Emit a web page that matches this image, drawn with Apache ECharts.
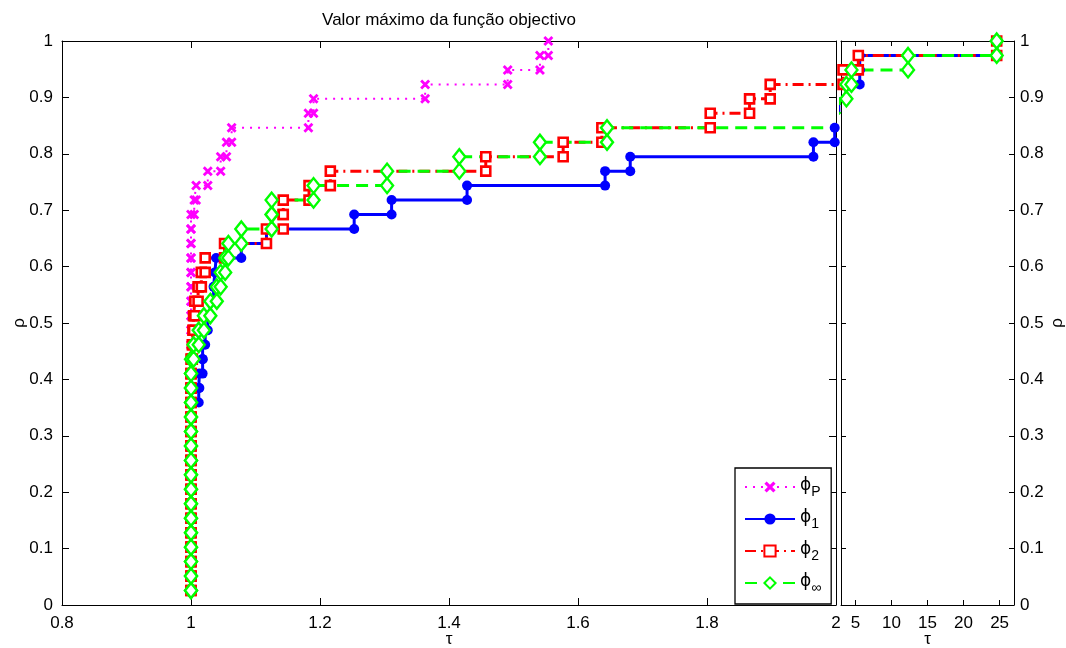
<!DOCTYPE html>
<html><head><meta charset="utf-8">
<script src="https://cdn.jsdelivr.net/npm/echarts@6/dist/echarts.min.js"></script>
<style>html,body{margin:0;padding:0;background:#fff}#c{width:1066px;height:648px}</style>
</head><body><div id="c"></div>
<script>
// ---- data ----
const nProblems = 39;
const titleText = 'Valor máximo da função objectivo';
const seriesNames = ['P', '1', '2', 'inf'];
const seriesSubs = ['P', '1', '2', '∞'];
// sorted performance ratios (one per problem)
const tauP = [1,1,1,1,1,1,1,1,1,1,1,1,1,1,1,1,1,1,1,1,1,1,1,1,1,1,1,
  1.005,1.008,1.026,1.046,1.055,1.063,1.182,1.19,1.363,1.491,1.541,1.554];
const tau1 = [1,1,1,1,1,1,1,1,1,1,1,1,1,1,
  1.012,1.013,1.018,1.018,1.022,1.026,1.03,1.035,1.037,1.039,1.078,1.117,1.253,1.311,1.428,
  1.642,1.681,1.965,1.998,2.4,2.7,3.7,5.6,5.6,24.6];
const tau2 = [1,1,1,1,1,1,1,1,1,1,1,1,1,1,1,1,1,
  1.002,1.003,1.004,1.006,1.011,1.016,1.022,1.052,1.117,1.143,1.143,1.183,1.216,1.457,
  1.577,1.637,1.805,1.866,1.898,3.28,5.4,24.6];
const tauInf = [1,1,1,1,1,1,1,1,1,1,1,1,1,1,1,1,1,
  1.004,1.012,1.02,1.03,1.04,1.046,1.053,1.058,1.078,1.125,1.125,1.19,1.304,1.416,
  1.541,1.645,2.5,2.8,3.75,4.45,12.3,24.6];
const xTicksMain = [0.8, 1, 1.2, 1.4, 1.6, 1.8, 2];
const xTicksRight = [5, 10, 15, 20, 25];
const yTicks = [0, 0.1, 0.2, 0.3, 0.4, 0.5, 0.6, 0.7, 0.8, 0.9, 1];
const xRangeMain = [0.8, 2];
const xRangeRight = [3, 27];

// ---- build stairs vertices (like MATLAB stairs) ----
function stairs(tau) {
  const pts = [];
  for (let k = 0; k < tau.length; k++) {
    if (k > 0) pts.push([tau[k], k / nProblems]);
    pts.push([tau[k], (k + 1) / nProblems]);
  }
  return pts;
}

const FONT = 'Liberation Sans';
const xPath = 'path://M2,0 L5,3 L8,0 L10,2 L7,5 L10,8 L8,10 L5,7 L2,10 L0,8 L3,5 L0,2 Z';
const styles = {
  'P':   {color: '#ff00ff', symbol: xPath, symbolSize: 10, lineStyle: {color: '#ff00ff', width: 2, type: [2, 6]}, itemStyle: {color: '#ff00ff', borderWidth: 0}},
  '1':   {color: '#0000ff', symbol: 'circle', symbolSize: 10, lineStyle: {color: '#0000ff', width: 3, type: 'solid'}, itemStyle: {color: '#0000ff', borderWidth: 0}},
  '2':   {color: '#ff0000', symbol: 'rect', symbolSize: 9, lineStyle: {color: '#ff0000', width: 3, type: [11, 5, 2, 5]}, itemStyle: {color: '#ffffff', borderColor: '#ff0000', borderWidth: 2.6}},
  'inf': {color: '#00ff00', symbol: 'diamond', symbolSize: [12, 15], lineStyle: {color: '#00ff00', width: 3, type: [12, 7]}, itemStyle: {color: '#ffffff', borderColor: '#00ff00', borderWidth: 2.4}}
};
const tauByName = {'P': tauP, '1': tau1, '2': tau2, 'inf': tauInf};

const series = [];
seriesNames.forEach(name => {
  [0, 1].forEach(g => {
    const s = styles[name];
    series.push({
      type: 'line', name: name,
      xAxisIndex: g === 0 ? 0 : 2, yAxisIndex: g === 0 ? 0 : 2,
      data: stairs(tauByName[name]),
      symbol: s.symbol, symbolSize: s.symbolSize, showSymbol: true, showAllSymbol: true,
      lineStyle: s.lineStyle, itemStyle: s.itemStyle, color: s.color,
      clip: true, emphasis: {disabled: true}, z: 3
    });
  });
});

const axLine = {show: true, onZero: false, lineStyle: {color: '#000', width: 1}};
const lbl = {color: '#000', fontFamily: FONT, fontSize: 17};
function xAx(grid, range, ticks, pos, showLabel, tickLen, extra) {
  return Object.assign({
    type: 'value', gridIndex: grid, position: pos, min: range[0], max: range[1],
    axisLine: axLine, splitLine: {show: false}, nameMoveOverlap: false,
    axisTick: {show: true, inside: true, length: tickLen, lineStyle: {color: '#000'}, customValues: ticks},
    axisLabel: Object.assign({show: showLabel, margin: 10, customValues: ticks, formatter: v => String(v)}, lbl)
  }, extra || {});
}
function yAx(grid, pos, showLabel, tickLen, margin, extra) {
  return Object.assign({
    type: 'value', gridIndex: grid, position: pos, min: 0, max: 1,
    axisLine: axLine, splitLine: {show: false}, nameMoveOverlap: false,
    axisTick: {show: true, inside: true, length: tickLen, lineStyle: {color: '#000'}, customValues: yTicks},
    axisLabel: Object.assign({show: showLabel, margin: margin, customValues: yTicks, formatter: v => String(v)}, lbl)
  }, extra || {});
}
const nameStyle = {color: '#000', fontFamily: FONT, fontSize: 17};

const option = {
  animation: false,
  backgroundColor: '#fff',
  grid: [
    {left: 62, top: 41, width: 774, height: 564, outerBoundsMode: 'none', containLabel: false},
    {left: 841, top: 41, width: 173, height: 564, outerBoundsMode: 'none', containLabel: false}
  ],
  xAxis: [
    xAx(0, xRangeMain, xTicksMain, 'bottom', true, 7, {name: 'τ', nameLocation: 'middle', nameGap: 26, nameTextStyle: nameStyle}),
    xAx(0, xRangeMain, xTicksMain, 'top', false, 7),
    xAx(1, xRangeRight, xTicksRight, 'bottom', true, 5, {name: 'τ', nameLocation: 'middle', nameGap: 26, nameTextStyle: nameStyle}),
    xAx(1, xRangeRight, xTicksRight, 'top', false, 5)
  ],
  yAxis: [
    yAx(0, 'left', true, 7, 9, {name: 'ρ', nameLocation: 'middle', nameGap: 34, nameRotate: 90, nameTextStyle: nameStyle}),
    yAx(0, 'right', false, 7, 9),
    yAx(1, 'left', false, 5, 9),
    yAx(1, 'right', true, 5, 6, {name: 'ρ', nameLocation: 'middle', nameGap: 35, nameRotate: 90, nameTextStyle: nameStyle})
  ],
  legend: {
    data: seriesNames,
    orient: 'vertical', left: 735, top: 468,
    backgroundColor: '#fff', borderColor: '#000', borderWidth: 1.3, borderRadius: 0,
    padding: [9, 10, 9, 9], itemGap: 10, itemWidth: 50, itemHeight: 14,
    selectedMode: false,
    formatter: name => '{a|ϕ}{s|' + seriesSubs[seriesNames.indexOf(name)] + '}',
    textStyle: {
      color: '#000', fontFamily: FONT,
      rich: {
        a: {fontSize: 17, fontFamily: 'DejaVu Sans', color: '#000', lineHeight: 20, verticalAlign: 'top'},
        s: {fontSize: 14, fontFamily: FONT, color: '#000', lineHeight: 20, padding: [8, 0, 0, 0], verticalAlign: 'top'}
      }
    }
  },
  graphic: [{
    type: 'text', x: 449, y: 20,
    style: {text: titleText, fill: '#000', font: '17px "Liberation Sans"', textAlign: 'center', textVerticalAlign: 'middle'}
  }],
  series: series
};
const chart = echarts.init(document.getElementById('c'), null, {renderer: 'canvas'});
chart.setOption(option);
</script>
</body></html>
